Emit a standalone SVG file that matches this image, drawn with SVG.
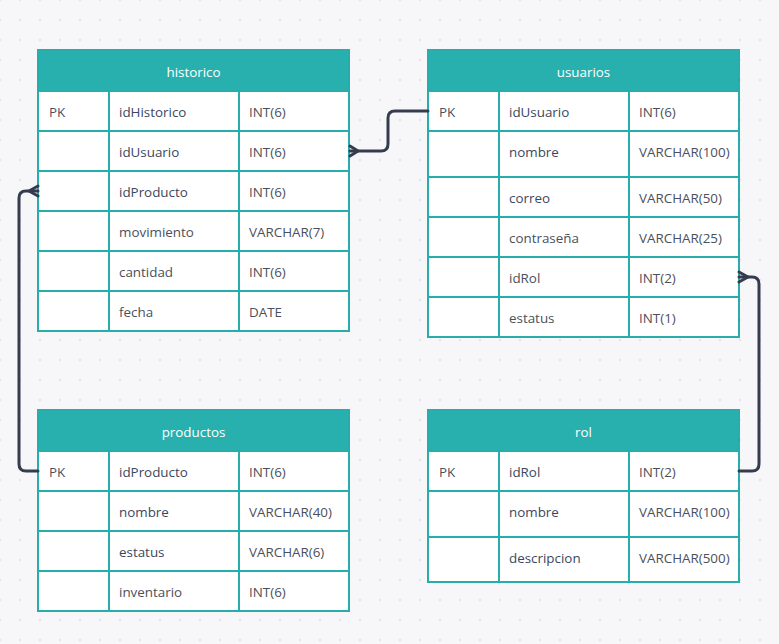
<svg xmlns="http://www.w3.org/2000/svg" width="779" height="644" viewBox="0 0 779 644">
<defs>
<pattern id="dots" x="-10" y="-10" width="20" height="20" patternUnits="userSpaceOnUse">
<circle cx="10" cy="10" r="0.9" fill="#d9dae2"/>
</pattern>
<style>
.tbl{fill:#ffffff;stroke:#27adab;stroke-width:2}
.hdr{fill:#27b0ae;stroke:#27adab;stroke-width:2}
.ln{stroke:#27adab;stroke-width:2;fill:none}
.h{font-family:"Open Sans","Noto Sans",sans-serif;font-size:13.4px;fill:#ffffff;text-anchor:middle}
.c{font-family:"Open Sans","Noto Sans",sans-serif;font-size:13.4px;fill:#4a505c}
.n{font-family:"Open Sans","Noto Sans",sans-serif;font-size:13.4px;fill:#3b4760}
.con{stroke:#343c4e;stroke-width:3;fill:none;stroke-linecap:round;stroke-linejoin:round}
</style>
</defs>
<rect width="779" height="644" fill="#f7f7fa"/>
<rect width="779" height="644" fill="url(#dots)"/>

<g id="historico">
<rect class="tbl" x="38" y="50" width="311" height="281"/>
<rect class="hdr" x="38" y="50" width="311" height="41"/>
<path class="ln" d="M38 131H349M38 171H349M38 211H349M38 251H349M38 291H349M109 91V331M239 91V331"/>
<text class="h" x="193.5" y="76.5">historico</text>
<text class="c" x="49" y="116.5">PK</text>
<text class="n" x="119" y="116.5">idHistorico</text>
<text class="c" x="249" y="116.5">INT(6)</text>
<text class="n" x="119" y="156.5">idUsuario</text>
<text class="c" x="249" y="156.5">INT(6)</text>
<text class="n" x="119" y="196.5">idProducto</text>
<text class="c" x="249" y="196.5">INT(6)</text>
<text class="c" x="119" y="236.5">movimiento</text>
<text class="c" x="249" y="236.5">VARCHAR(7)</text>
<text class="c" x="119" y="276.5">cantidad</text>
<text class="c" x="249" y="276.5">INT(6)</text>
<text class="c" x="119" y="316.5">fecha</text>
<text class="c" x="249" y="316.5">DATE</text>
</g>

<g id="usuarios">
<rect class="tbl" x="428" y="50" width="311" height="287"/>
<rect class="hdr" x="428" y="50" width="311" height="41"/>
<path class="ln" d="M428 131H739M428 177H739M428 217H739M428 257H739M428 297H739M499 91V337M629 91V337"/>
<text class="h" x="583.5" y="76.5">usuarios</text>
<text class="c" x="439" y="116.5">PK</text>
<text class="n" x="509" y="116.5">idUsuario</text>
<text class="c" x="639" y="116.5">INT(6)</text>
<text class="n" x="509" y="156.5">nombre</text>
<text class="c" x="639" y="156.5">VARCHAR(100)</text>
<text class="n" x="509" y="202.5">correo</text>
<text class="c" x="639" y="202.5">VARCHAR(50)</text>
<text class="c" x="509" y="242.5">contraseña</text>
<text class="c" x="639" y="242.5">VARCHAR(25)</text>
<text class="c" x="509" y="282.5">idRol</text>
<text class="c" x="639" y="282.5">INT(2)</text>
<text class="c" x="509" y="322.5">estatus</text>
<text class="c" x="639" y="322.5">INT(1)</text>
</g>

<g id="productos">
<rect class="tbl" x="38" y="410" width="311" height="201"/>
<rect class="hdr" x="38" y="410" width="311" height="41"/>
<path class="ln" d="M38 491H349M38 531H349M38 571H349M109 451V611M239 451V611"/>
<text class="h" x="193.5" y="436.5">productos</text>
<text class="c" x="49" y="476.5">PK</text>
<text class="n" x="119" y="476.5">idProducto</text>
<text class="c" x="249" y="476.5">INT(6)</text>
<text class="n" x="119" y="516.5">nombre</text>
<text class="c" x="249" y="516.5">VARCHAR(40)</text>
<text class="n" x="119" y="556.5">estatus</text>
<text class="c" x="249" y="556.5">VARCHAR(6)</text>
<text class="c" x="119" y="596.5">inventario</text>
<text class="c" x="249" y="596.5">INT(6)</text>
</g>

<g id="rol">
<rect class="tbl" x="428" y="410" width="311" height="172"/>
<rect class="hdr" x="428" y="410" width="311" height="41"/>
<path class="ln" d="M428 491H739M428 537H739M499 451V582M629 451V582"/>
<text class="h" x="583.5" y="436.5">rol</text>
<text class="c" x="439" y="476.5">PK</text>
<text class="n" x="509" y="476.5">idRol</text>
<text class="c" x="639" y="476.5">INT(2)</text>
<text class="n" x="509" y="516.5">nombre</text>
<text class="c" x="639" y="516.5">VARCHAR(100)</text>
<text class="n" x="509" y="562.5">descripcion</text>
<text class="c" x="639" y="562.5">VARCHAR(500)</text>
</g>

<g id="connectors">
<path class="con" d="M350 151H381Q388 151 388 144V118Q388 111 395 111H428"/>
<path class="con" d="M350 146L358 151L350 156"/>
<path class="con" d="M38 471H26Q19 471 19 464V198Q19 191 26 191H38"/>
<path class="con" d="M38 186L29 191L38 196"/>
<path class="con" d="M739 471H752Q759 471 759 464V284Q759 277 752 277H739"/>
<path class="con" d="M739 272L748 277L739 282"/>
</g>
</svg>
